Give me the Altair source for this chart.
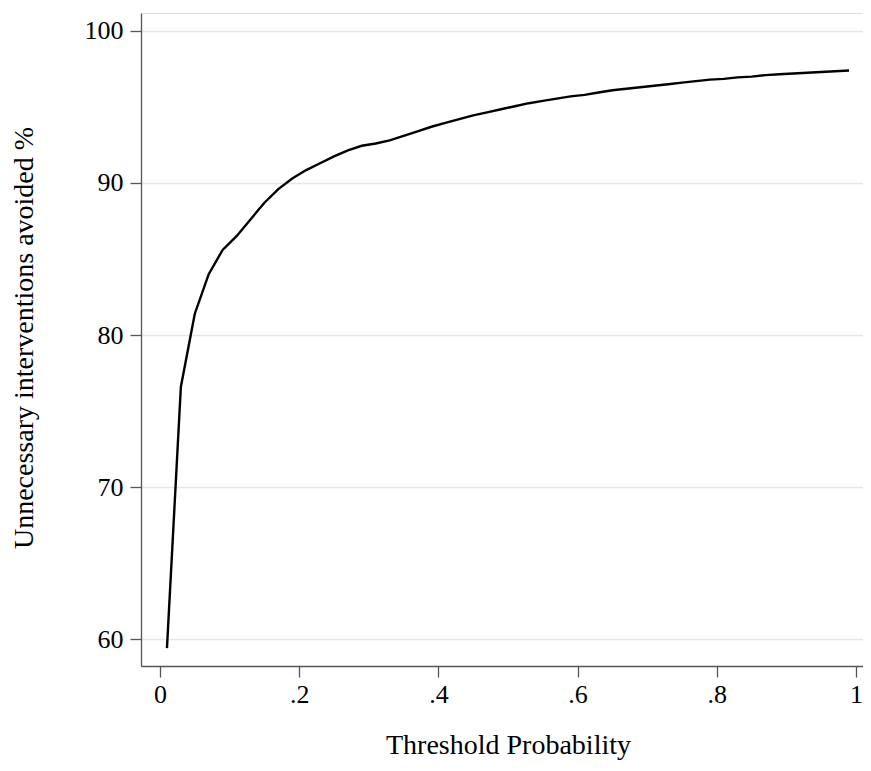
import altair as alt
import pandas as pd

threshold = [0.01, 0.03, 0.05, 0.07, 0.09, 0.11, 0.13, 0.15, 0.17, 0.19,
             0.21, 0.23, 0.25, 0.27, 0.29, 0.31, 0.33, 0.35, 0.37, 0.39,
             0.41, 0.43, 0.45, 0.47, 0.49, 0.51, 0.53, 0.55, 0.57, 0.59,
             0.61, 0.63, 0.65, 0.67, 0.69, 0.71, 0.73, 0.75, 0.77, 0.79,
             0.81, 0.83, 0.85, 0.87, 0.89, 0.91, 0.93, 0.95, 0.97, 0.99]
avoided = [59.4, 76.6, 81.4, 84.0, 85.6, 86.5, 87.6, 88.7, 89.6, 90.3,
           90.85, 91.3, 91.75, 92.15, 92.45, 92.6, 92.8, 93.1, 93.4, 93.7,
           93.95, 94.2, 94.45, 94.65, 94.85, 95.05, 95.25, 95.4, 95.55, 95.7,
           95.8, 95.95, 96.1, 96.2, 96.3, 96.4, 96.5, 96.6, 96.7, 96.8,
           96.85, 96.95, 97.0, 97.1, 97.15, 97.2, 97.25, 97.3, 97.35, 97.4]

x_ticks = [0, 0.2, 0.4, 0.6, 0.8, 1.0]
x_tick_labels = ["0", ".2", ".4", ".6", ".8", "1"]
y_ticks = [60, 70, 80, 90, 100]

df = pd.DataFrame({"t": threshold, "v": avoided})

label_expr = " : ".join(
    f"abs(datum.value - {v}) < 1e-6 ? '{l}'" for v, l in zip(x_ticks, x_tick_labels)
) + " : ''"

FONT = "Liberation Serif"

chart = alt.Chart(df).mark_line(color="black", strokeWidth=2.4).encode(
    x=alt.X("t:Q",
            scale=alt.Scale(domain=[-0.0273, 1.0101], nice=False, zero=False),
            axis=alt.Axis(values=x_ticks, labelExpr=label_expr, grid=False,
                          title="Threshold Probability", titleFontSize=28,
                          titleFontWeight="normal", titleFont=FONT,
                          titleX=367, titleY=87, titleBaseline="alphabetic",
                          titleAnchor="start", titleAlign="center",
                          labelFont=FONT, labelFontSize=26, labelColor="black",
                          labelPadding=4, tickSize=11, tickColor="#555",
                          tickWidth=1.3, domainColor="#555", domainWidth=1.3,
                          labelFlush=False)),
    y=alt.Y("v:Q",
            scale=alt.Scale(domain=[58.224, 101.184], nice=False, zero=False),
            axis=alt.Axis(values=y_ticks, grid=True, gridColor="#e6e6e6",
                          gridWidth=1.5,
                          title="Unnecessary interventions avoided %",
                          titleFontSize=28, titleFontWeight="normal",
                          titleFont=FONT, titleAngle=270, titleX=-117,
                          titleY=324.5, titleBaseline="middle",
                          titleAlign="center", titleAnchor="start",
                          labelFont=FONT, labelFontSize=26, labelColor="black",
                          labelPadding=7, tickSize=11, tickColor="#555",
                          tickWidth=1.3, domainColor="#555", domainWidth=1.3,
                          labelFlush=False)),
).properties(
    width=722, height=653,
    autosize=alt.AutoSizeParams(type="none"),
    padding={"left": 133, "top": 5, "right": 0, "bottom": 102},
).configure_view(stroke=None).configure(background="white")

chart.save("out.html", embed_options={"renderer": "svg", "actions": False})
